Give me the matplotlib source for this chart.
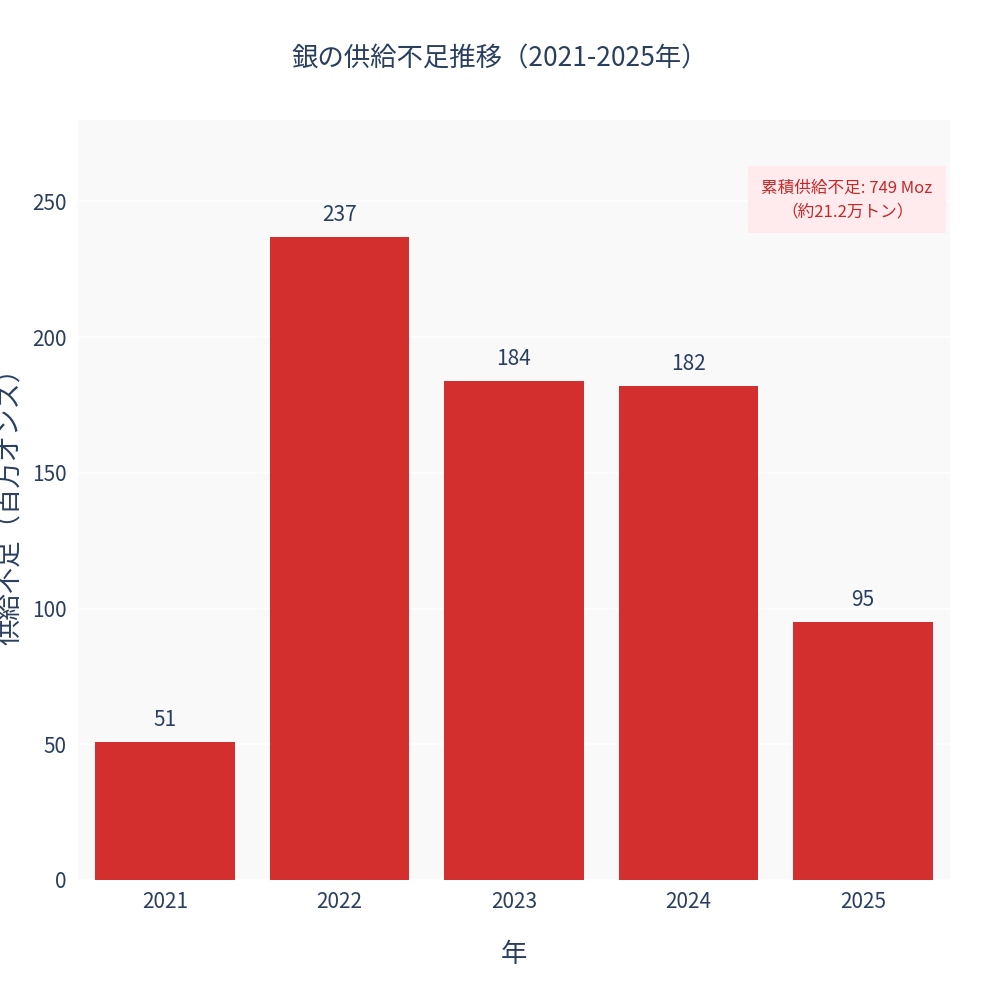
import matplotlib
matplotlib.use("Agg")
import matplotlib.pyplot as plt

plt.rcParams['font.family'] = ['Noto Sans CJK JP', 'DejaVu Sans']

years = ["2021", "2022", "2023", "2024", "2025"]
deficits = [51, 237, 184, 182, 95]
total_label = "累積供給不足: 749 Moz\n（約21.2万トン）"

text_color = "#2a3f5f"

fig = plt.figure(figsize=(10, 10), dpi=100)
ax = fig.add_axes([0.078, 0.12, 0.872, 0.76])
ax.set_facecolor("#f9f9f9")

x = range(len(years))
bars = ax.bar(x, deficits, width=0.8, color="#d32f2f", zorder=3)
for xi, v in zip(x, deficits):
    ax.text(xi, v + 4, str(v), ha="center", va="bottom", fontsize=15, color=text_color)

ax.set_xlim(-0.5, len(years) - 0.5)
ax.set_ylim(0, 280)
ax.set_xticks(list(x))
ax.set_xticklabels(years)
ax.set_yticks([0, 50, 100, 150, 200, 250])
ax.tick_params(axis="both", length=0, labelsize=15, labelcolor=text_color, pad=8)
ax.grid(axis="y", color="white", linewidth=1.2, zorder=0)
for s in ax.spines.values():
    s.set_visible(False)

ax.set_xlabel("年", fontsize=19, color=text_color, labelpad=20)
ax.set_ylabel("供給不足（百万オンス）", fontsize=19, color=text_color)
ax.yaxis.set_label_coords(-0.062, 0.5)
fig.suptitle("銀の供給不足推移（2021-2025年）", fontsize=19, color=text_color, y=0.955)

ax.text(0.882, 0.895, total_label, transform=ax.transAxes, ha="center", va="center",
        fontsize=12, color="#c62828", linespacing=1.5,
        bbox=dict(boxstyle="square,pad=0.8", facecolor="#ffebee", edgecolor="none"))

fig.savefig("out.png", facecolor="white")
